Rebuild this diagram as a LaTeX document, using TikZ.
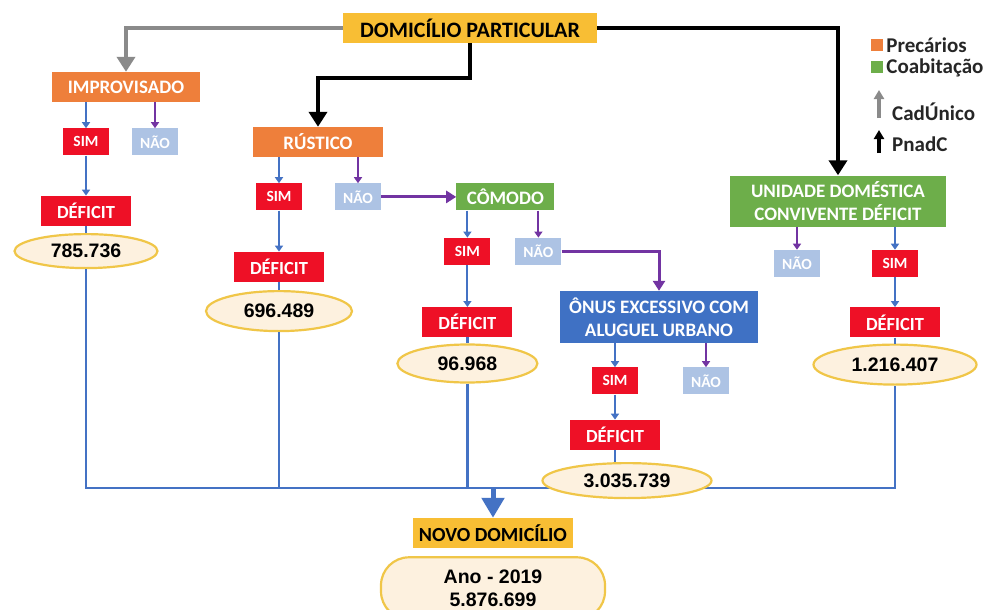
\documentclass[tikz,border=0pt]{standalone}
\usepackage{fontspec}
\setmainfont{Carlito}
\newfontfamily\numfont{Liberation Sans}
\usetikzlibrary{arrows.meta,positioning,shapes.geometric}
\definecolor{domYellow}{HTML}{F8BE34}
\definecolor{precOrange}{HTML}{EE7F3B}
\definecolor{coabGreen}{HTML}{6DAE4A}
\definecolor{onusBlue}{HTML}{3F71C4}
\definecolor{simRed}{HTML}{EE1026}
\definecolor{naoBlue}{HTML}{ADC3E4}
\definecolor{naoPurple}{HTML}{7234A2}
\definecolor{flowBlue}{HTML}{4472C4}
\definecolor{cadGray}{HTML}{8A8A8A}
\definecolor{valFill}{HTML}{FDF1DF}
\definecolor{valGold}{HTML}{F0C648}
\definecolor{legText}{HTML}{262626}

\begin{document}
\begin{tikzpicture}[
    x=1pt, y=-1pt,
    topbox/.style={fill=domYellow, inner sep=0pt, minimum height=30pt, font=\fontsize{22}{24}\selectfont\bfseries},
    catbox/.style={inner sep=0pt, text=white, align=center, font=\fontsize{19}{23}\selectfont\bfseries},
    simbox/.style={fill=simRed, text=white, inner sep=0pt, minimum width=46pt, minimum height=27pt, font=\fontsize{15.5}{16}\selectfont\bfseries},
    naobox/.style={simbox, fill=naoBlue},
    defbox/.style={fill=simRed, text=white, inner sep=0pt, minimum width=90pt, minimum height=30pt, font=\fontsize{18.5}{20}\selectfont\bfseries},
    valnode/.style={ellipse, draw=valGold, line width=2.2pt, fill=valFill, inner sep=0pt, font=\numfont\fontsize{19.5}{21}\selectfont\bfseries},
    anobox/.style={draw=valGold, line width=2.2pt, fill=valFill, rounded corners=28pt, inner sep=0pt, minimum width=224pt, minimum height=62pt, align=center, font=\numfont\fontsize{19.5}{23}\selectfont\bfseries},
    legsq/.style={inner sep=0pt, minimum size=12pt},
    legtext/.style={inner sep=0pt, text=legText, font=\fontsize{21}{23}\selectfont\bfseries},
    bigarrow/.style={-{Triangle[width=18pt,length=15pt]}, line width=4.5pt},
    simarrow/.style={-{Triangle[width=8pt,length=6pt]}, line width=2pt, flowBlue},
    naoarrow/.style={-{Triangle[width=8pt,length=6pt]}, line width=2pt, naoPurple},
    purarrow/.style={-{Triangle[width=12pt,length=10pt]}, line width=3pt, naoPurple},
    flowline/.style={line width=2.4pt, flowBlue},
    joinarrow/.style={-{Triangle[width=22pt,length=20pt]}, line width=5pt, flowBlue},
    legarrow/.style={-{Triangle[width=10pt,length=9pt]}, line width=3.5pt}
  ]
    \path[use as bounding box, fill=white] (0,0) rectangle (988,610);

    \node[topbox, minimum width=254pt] (dom) at (470,28) {DOMICÍLIO PARTICULAR};

    \node[catbox, fill=precOrange, minimum width=148pt, minimum height=30pt] (imp) at (126,87) {IMPROVISADO};
    \node[simbox, below=26pt of imp, xshift=-40pt] (impsim) {SIM};
    \node[naobox, below=26pt of imp, xshift=29pt] (impnao) {NÃO};
    \node[defbox, below=40pt of impsim] (impdef) {DÉFICIT};
    \node[valnode, minimum width=143pt, minimum height=34pt, below=7pt of impdef] (impval) {785.736};

    \node[catbox, fill=precOrange, minimum width=130pt, minimum height=30pt] (rus) at (318,142) {RÚSTICO};
    \node[simbox, below=26pt of rus, xshift=-39pt] (russim) {SIM};
    \node[naobox, below=26pt of rus, xshift=40pt] (rusnao) {NÃO};
    \node[defbox, below=41pt of russim] (rusdef) {DÉFICIT};
    \node[valnode, minimum width=146pt, minimum height=40pt, below=8pt of rusdef] (rusval) {696.489};

    \node[catbox, fill=coabGreen, minimum width=98pt, minimum height=27pt, right=75pt of rusnao] (com) {CÔMODO};
    \node[simbox, below=27pt of com, xshift=-38pt] (comsim) {SIM};
    \node[naobox, below=27pt of com, xshift=33pt] (comnao) {NÃO};
    \node[defbox, below=42pt of comsim] (comdef) {DÉFICIT};
    \node[valnode, minimum width=140pt, minimum height=38pt, below=6pt of comdef] (comval) {96.968};

    \node[catbox, fill=onusBlue, minimum width=198pt, minimum height=52pt] (onus) at (659,317) {ÔNUS EXCESSIVO COM\\ALUGUEL URBANO};
    \node[simbox, below=24pt of onus, xshift=-44pt] (onussim) {SIM};
    \node[naobox, below=24pt of onus, xshift=47pt] (onusnao) {NÃO};
    \node[defbox, below=25pt of onussim] (onusdef) {DÉFICIT};

    \node[catbox, fill=coabGreen, minimum width=216pt, minimum height=51pt] (uni) at (838,201) {UNIDADE DOMÉSTICA\\CONVIVENTE DÉFICIT};
    \node[naobox, below=23pt of uni, xshift=-41pt] (uninao) {NÃO};
    \node[simbox, below=23pt of uni, xshift=57pt] (unisim) {SIM};
    \node[defbox, below=30pt of unisim] (unidef) {DÉFICIT};
    \node[valnode, minimum width=163pt, minimum height=40pt, below=6pt of unidef] (unival) {1.216.407};

    \node[topbox, minimum width=160pt, font=\fontsize{20}{21}\selectfont\bfseries] (novo) at (493,533) {NOVO DOMICÍLIO};
    \node[anobox, below=8pt of novo] (ano) {Ano - 2019\\5.876.699};

    \coordinate (join) at (493,488);

    \draw[bigarrow, cadGray] (dom.west) -| (imp.north);
    \draw[bigarrow] (dom.south) -- ++(0,35) -| (rus.north);
    \draw[bigarrow] (dom.east) -| (uni.north);

    \draw[simarrow] (impsim |- imp.south) -- (impsim);
    \draw[naoarrow] (impnao |- imp.south) -- (impnao);
    \draw[simarrow] (impsim) -- (impdef);
    \draw[flowline] (impdef) -- (impval);

    \draw[simarrow] (russim |- rus.south) -- (russim);
    \draw[naoarrow] (rusnao |- rus.south) -- (rusnao);
    \draw[simarrow] (russim) -- (rusdef);
    \draw[flowline] (rusdef) -- (rusval);
    \draw[purarrow] (rusnao) -- (com);

    \draw[simarrow] (comsim |- com.south) -- (comsim);
    \draw[naoarrow] (comnao |- com.south) -- (comnao);
    \draw[simarrow] (comsim) -- (comdef);
    \draw[flowline] (comdef) -- (comval);
    \draw[purarrow] (comnao) -| (onus);

    \draw[simarrow] (onussim |- onus.south) -- (onussim);
    \draw[naoarrow] (onusnao |- onus.south) -- (onusnao);
    \draw[simarrow] (onussim) -- (onusdef);

    \draw[naoarrow] (uninao |- uni.south) -- (uninao);
    \draw[simarrow] (unisim |- uni.south) -- (unisim);
    \draw[simarrow] (unisim) -- (unidef);
    \draw[flowline] (unidef) -- (unival);

    \draw[flowline] (impval.south) |- (unival.south |- join) -- (unival.south);
    \draw[flowline] (rusval.south) -- (rusval.south |- join);
    \draw[flowline] (comval.south) -- (comval.south |- join);
    \draw[joinarrow] (join) -- (novo);

    \node[valnode, minimum width=169pt, minimum height=35pt, below=12pt of onusdef, xshift=12pt] (onusval) {3.035.739};
    \draw[flowline] (onusdef.south) -- (onusdef.south |- onusval.north);

    \node[legsq, fill=precOrange] (legprec) at (877,45) {};
    \node[legtext, right=3pt of legprec] (precar) {Precários};
    \node[legsq, fill=coabGreen] (legcoab) at (877,67) {};
    \node[legtext, right=3pt of legcoab, yshift=-1pt] (coab) {Coabitação};
    \coordinate (cadtail) at (879,118);
    \coordinate (cadhead) at (879,90);
    \draw[legarrow, cadGray] (cadtail) -- (cadhead);
    \node[legtext, anchor=west] (cad) at (892,112) {CadÚnico};
    \coordinate (pnadtail) at (879,153);
    \coordinate (pnadhead) at (879,130);
    \draw[legarrow] (pnadtail) -- (pnadhead);
    \node[legtext, anchor=west] (pnad) at (892,144) {PnadC};
  \end{tikzpicture}
\end{document}
